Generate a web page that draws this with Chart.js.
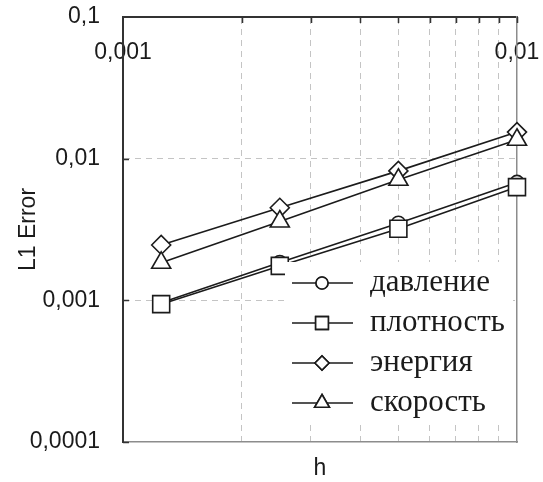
<!DOCTYPE html>
<html>
<head>
<meta charset="utf-8">
<script src="https://cdn.jsdelivr.net/npm/chart.js@4/dist/chart.umd.min.js"></script>
<style>
  html, body { margin: 0; padding: 0; background: #fff; }
  #wrap { width: 543px; height: 482px; position: relative; }
</style>
</head>
<body>
<div id="wrap"><canvas id="c"></canvas></div>
<script>
// Grid step h and the L1 error of each quantity
const hValues   = [0.00125, 0.0025, 0.005, 0.01];
const pressure  = [0.00096, 0.00185, 0.0035, 0.0068];
const density   = [0.00094, 0.00175, 0.0032, 0.0063];
const energy    = [0.00246, 0.0045, 0.0082, 0.0154];
const velocity  = [0.00184, 0.0036, 0.0071, 0.0136];

const seriesNames = ['давление', 'плотность', 'энергия', 'скорость'];
const xTicks = [0.001, 0.002, 0.003, 0.004, 0.005, 0.006, 0.007, 0.008, 0.009, 0.01];
const xLabelled = [0.001, 0.01];
const yTicks = [0.0001, 0.001, 0.01, 0.1];

const comma = v => String(v).replace('.', ',');
const pts = ys => hValues.map((h, i) => ({ x: h, y: ys[i] }));

const INK = '#1b1b1b';
const GRID = '#c4c4c4';
const sansFont = { family: '"Liberation Sans", Arial, sans-serif', size: 23 };

// order: lower values are painted on top (squares over circles)
function series(label, ys, style, radius, legendRadius, order) {
  return {
    label, data: pts(ys), order,
    borderColor: INK, borderWidth: 1.6, tension: 0,
    pointStyle: style, pointRadius: radius, pointHoverRadius: radius,
    pointBackgroundColor: '#fff', pointBorderColor: INK, pointBorderWidth: 1.6,
    legendRadius, clip: false
  };
}

// Keep the plot frame fixed: no extra room reserved for edge labels
function noEdgePadding(s) {
  s.paddingTop = 0; s.paddingBottom = 0; s.paddingLeft = 0; s.paddingRight = 0;
}

// Legend drawn inside the plot, on a white patch, with a line through each marker
const innerLegend = {
  id: 'innerLegend',
  afterDatasetsDraw(chart) {
    const ctx = chart.ctx;
    const box = { x: 285, y: 262, w: 228, h: 159 };
    ctx.save();
    ctx.fillStyle = '#fff';
    ctx.fillRect(box.x, box.y, box.w, box.h);
    chart.data.datasets.forEach((ds, i) => {
      const y = 283 + i * 40;
      ctx.strokeStyle = INK;
      ctx.lineWidth = 1.6;
      ctx.beginPath();
      ctx.moveTo(292, y);
      ctx.lineTo(353, y);
      ctx.stroke();
      ctx.fillStyle = '#fff';
      Chart.helpers.drawPoint(ctx, {
        pointStyle: ds.pointStyle, radius: ds.legendRadius, rotation: 0, borderWidth: 1.6
      }, 322, y);
      ctx.fill();
      ctx.stroke();
      ctx.fillStyle = INK;
      ctx.font = '31px "Liberation Serif", "Times New Roman", serif';
      ctx.textBaseline = 'middle';
      ctx.textAlign = 'left';
      ctx.fillText(ds.label, 370, y);
    });
    ctx.restore();
  }
};

// Short inward tick marks on the top and left axes
const inwardTicks = {
  id: 'inwardTicks',
  afterDraw(chart) {
    const { ctx, chartArea: a, scales } = chart;
    ctx.save();
    ctx.strokeStyle = '#333';
    ctx.lineWidth = 1.5;
    ctx.beginPath();
    xTicks.slice(1).forEach(v => {
      const px = Math.round(scales.x.getPixelForValue(v)) + 0.5;
      ctx.moveTo(px, a.top);
      ctx.lineTo(px, a.top + 6);
    });
    yTicks.slice(0, 3).forEach(v => {
      const py = Math.round(scales.y.getPixelForValue(v)) + 0.5;
      ctx.moveTo(a.left, py);
      ctx.lineTo(a.left + 6, py);
    });
    ctx.stroke();
    ctx.restore();
  }
};

new Chart(document.getElementById('c'), {
  type: 'line',
  data: {
    datasets: [
      series(seriesNames[0], pressure, 'circle', 7, 6, 3),
      series(seriesNames[1], density, 'rect', 12, 9, 2),
      series(seriesNames[2], energy, 'rectRot', 9.5, 7, 1),
      series(seriesNames[3], velocity, 'triangle', 11, 8.5, 0)
    ]
  },
  options: {
    responsive: true,
    maintainAspectRatio: false,
    animation: false,
    layout: { padding: 0 },
    plugins: { legend: { display: false }, tooltip: { enabled: false } },
    scales: {
      x: {
        type: 'logarithmic', position: 'top', min: 0.001, max: 0.01,
        afterBuildTicks: s => { s.ticks = xTicks.map(v => ({ value: v })); },
        afterFit: s => { s.height = 17; noEdgePadding(s); },
        ticks: {
          autoSkip: false, maxRotation: 0, minRotation: 0,
          mirror: true, padding: 22,
          color: INK, font: sansFont,
          callback: v => xLabelled.includes(v) ? comma(v) : ''
        },
        grid: {
          drawTicks: false,
          color: c => (c.index > 0 && c.index < xTicks.length - 1) ? GRID : 'rgba(0,0,0,0)',
          lineWidth: 1
        },
        border: { color: '#333', width: 2, dash: [6, 5] }
      },
      x2: {
        type: 'logarithmic', position: 'bottom', min: 0.001, max: 0.01,
        afterFit: s => { s.height = 40; noEdgePadding(s); },
        ticks: { display: false },
        grid: { display: false, drawTicks: false },
        border: { color: '#8c8c8c', width: 1.5 },
        title: { display: true, text: 'h', color: INK, font: sansFont, padding: { top: 0, bottom: 0 } }
      },
      y: {
        type: 'logarithmic', position: 'left', min: 0.0001, max: 0.1,
        afterBuildTicks: s => { s.ticks = yTicks.map(v => ({ value: v })); },
        afterFit: s => { s.width = 123; noEdgePadding(s); },
        ticks: {
          autoSkip: false, padding: 23, color: INK, font: sansFont,
          callback: v => comma(v)
        },
        grid: {
          drawTicks: false,
          color: c => (c.index > 0 && c.index < yTicks.length - 1) ? GRID : 'rgba(0,0,0,0)',
          lineWidth: 1
        },
        border: { color: '#333', width: 2, dash: [6, 5] },
        title: { display: true, text: 'L1 Error', color: INK, font: sansFont, padding: { top: 15, bottom: 0 } }
      },
      y2: {
        type: 'logarithmic', position: 'right', min: 0.0001, max: 0.1,
        afterFit: s => { s.width = 26; noEdgePadding(s); },
        ticks: { display: false },
        grid: { display: false, drawTicks: false },
        border: { color: '#8c8c8c', width: 1.5 }
      }
    }
  },
  plugins: [innerLegend, inwardTicks]
});
</script>
</body>
</html>
